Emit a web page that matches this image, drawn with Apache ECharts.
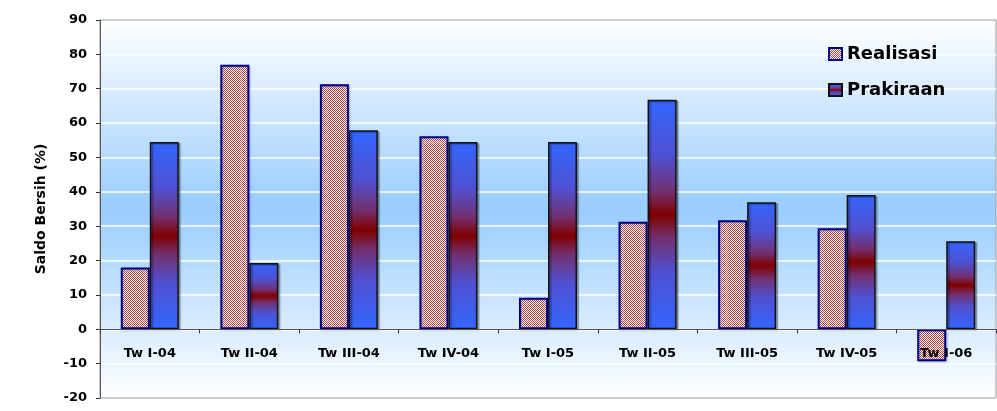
<!DOCTYPE html>
<html>
<head>
<meta charset="utf-8">
<script src="https://cdn.jsdelivr.net/npm/echarts@6/dist/echarts.min.js"></script>
<style>
  html, body { margin: 0; padding: 0; background: #ffffff; }
  #chart { width: 997px; height: 411px; }
</style>
</head>
<body>
<div id="chart"></div>
<script>
// Quarterly categories
const categories = ['Tw I-04', 'Tw II-04', 'Tw III-04', 'Tw IV-04', 'Tw I-05', 'Tw II-05', 'Tw III-05', 'Tw IV-05', 'Tw I-06'];
// Net balance (%) per quarter
const realisasi = [18, 77, 71.3, 56.2, 9.2, 31.3, 31.7, 29.4, -9.3];
const prakiraan = [54.5, 19.3, 57.9, 54.5, 54.5, 66.8, 37, 39.1, 25.6];
// Value axis range
const yMin = -20, yMax = 90, yStep = 10;

const FONT = '"DejaVu Sans", "Liberation Sans", Arial, sans-serif';

// Fine red checker texture for the "Realisasi" bars
function checkerTexture() {
  const c = document.createElement('canvas');
  c.width = 2; c.height = 2;
  const ctx = c.getContext('2d');
  ctx.fillStyle = '#ffffff';
  ctx.fillRect(0, 0, 2, 2);
  ctx.fillStyle = '#b04646';
  ctx.fillRect(0, 0, 1, 1);
  ctx.fillRect(1, 1, 1, 1);
  return c;
}

const chart = echarts.init(document.getElementById('chart'), null, { renderer: 'canvas' });

chart.setOption({
  animation: false,
  backgroundColor: '#ffffff',
  grid: {
    left: 100, right: 1, top: 20, bottom: 13,
    outerBoundsMode: 'none',
    containLabel: false,
    show: true,
    borderColor: '#9a9a9a',
    borderWidth: 1,
    backgroundColor: new echarts.graphic.LinearGradient(0, 0, 0, 1, [
      { offset: 0, color: '#ffffff' },
      { offset: 0.5, color: '#99ccff' },
      { offset: 1, color: '#ffffff' }
    ])
  },
  legend: {
    orient: 'vertical',
    left: 828, top: 45,
    padding: 0,
    itemWidth: 13, itemHeight: 12,
    itemGap: 18,
    icon: 'rect',
    textStyle: { fontFamily: FONT, fontWeight: 'bold', fontSize: 18, color: '#000' },
    data: ['Realisasi', 'Prakiraan']
  },
  xAxis: {
    type: 'category',
    data: categories,
    axisLine: { onZero: true, lineStyle: { color: '#555', width: 1 } },
    axisTick: { show: true, length: 4, lineStyle: { color: '#333' } },
    // labels sit just under the zero line, above the lower band of the plot
    axisLabel: { fontFamily: FONT, fontWeight: 'bold', fontSize: 13, color: '#000', margin: -51 },
    splitLine: { show: false },
    z: 4
  },
  yAxis: {
    type: 'value',
    min: yMin, max: yMax, interval: yStep,
    name: 'Saldo Bersih (%)',
    nameLocation: 'middle',
    nameGap: 52,
    nameRotate: 90,
    nameTextStyle: { fontFamily: FONT, fontWeight: 'bold', fontSize: 14, color: '#000' },
    axisLine: { show: true, lineStyle: { color: '#555', width: 1 } },
    axisTick: { show: true, length: 4, lineStyle: { color: '#333' } },
    axisLabel: { fontFamily: FONT, fontWeight: 'bold', fontSize: 13, color: '#000', margin: 13 },
    splitLine: { show: true, showMinLine: false, showMaxLine: false, lineStyle: { color: '#ffffff', width: 1.5 } }
  },
  series: [
    {
      name: 'Realisasi',
      type: 'bar',
      data: realisasi,
      barWidth: 29,
      barGap: '0%',
      itemStyle: {
        color: { image: checkerTexture(), repeat: 'repeat' },
        borderColor: '#000080',
        borderWidth: 2,
        shadowColor: 'rgba(60, 60, 160, 0.3)',
        shadowBlur: 2,
        shadowOffsetX: 1,
        shadowOffsetY: 1
      },
      z: 3
    },
    {
      name: 'Prakiraan',
      type: 'bar',
      data: prakiraan,
      barWidth: 29,
      itemStyle: {
        color: new echarts.graphic.LinearGradient(0, 0, 0, 1, [
          { offset: 0, color: '#3366ff' },
          { offset: 0.25, color: '#5050d0' },
          { offset: 0.4, color: '#73306f' },
          { offset: 0.5, color: '#800000' },
          { offset: 0.6, color: '#73306f' },
          { offset: 0.75, color: '#5050d0' },
          { offset: 1, color: '#3366ff' }
        ]),
        borderColor: '#111111',
        borderWidth: 1.5,
        shadowColor: 'rgba(0, 0, 0, 0.3)',
        shadowBlur: 1,
        shadowOffsetX: 2,
        shadowOffsetY: 1
      },
      z: 3
    }
  ]
});
</script>
</body>
</html>
